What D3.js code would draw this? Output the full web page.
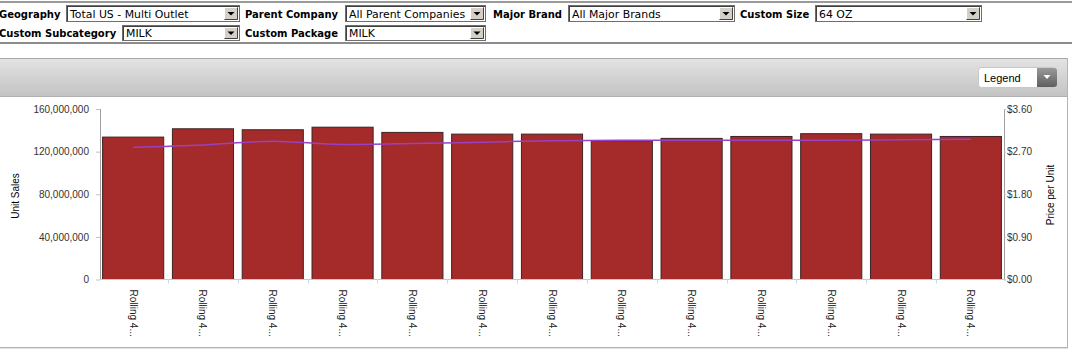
<!DOCTYPE html>
<html><head><meta charset="utf-8">
<script src="https://cdn.jsdelivr.net/npm/d3@7"></script>
<style>
html,body{margin:0;padding:0;background:#fff;overflow:hidden;}
svg{display:block;}
</style></head>
<body>
<div id="chart"></div>
<script>
// ---- data ----
const categories = ["P01","P02","P03","P04","P05","P06","P07","P08","P09","P10","P11","P12","P13"];
const tickLabels = ["Rolling 4...","Rolling 4...","Rolling 4...","Rolling 4...","Rolling 4...","Rolling 4...","Rolling 4...","Rolling 4...","Rolling 4...","Rolling 4...","Rolling 4...","Rolling 4...","Rolling 4..."];
const unitSales = [134.1e6,141.9e6,141.0e6,143.4e6,138.5e6,136.9e6,136.9e6,130.7e6,132.9e6,134.7e6,137.3e6,136.9e6,134.7e6];
const pricePerUnit = [2.79,2.84,2.92,2.85,2.87,2.90,2.93,2.94,2.94,2.94,2.94,2.95,2.96];
const leftTicks = [0,40e6,80e6,120e6,160e6];
const rightTicks = [0,0.9,1.8,2.7,3.6];
const filtersRow1 = [["Geography","Total US - Multi Outlet"],["Parent Company","All Parent Companies"],["Major Brand","All Major Brands"],["Custom Size","64 OZ"]];
const filtersRow2 = [["Custom Subcategory","MILK"],["Custom Package","MILK"]];

const W = 1072, H = 357;
const svg = d3.select("#chart").append("svg").attr("width", W).attr("height", H);
const defs = svg.append("defs");

// ---- filter bar ----
svg.append("rect").attr("x",0).attr("y",1).attr("width",W).attr("height",2).attr("fill","#9a9a9a");
svg.append("rect").attr("x",0).attr("y",42).attr("width",W).attr("height",2).attr("fill","#8c8c8c");

const layout1 = [[-1,66,240],[245,345,486],[493,568,735],[740,815,982]];
const layout2 = [[-1,122,240],[245,345,486]];
function drawFilters(rows, lay, y0, h) {
  rows.forEach((f, i) => {
    const [lx, sx, ex] = lay[i];
    svg.append("text").attr("x", lx).attr("y", y0 + h - 4)
      .attr("font-family","DejaVu Sans, Verdana, sans-serif").attr("font-weight","bold")
      .attr("font-size","10px").attr("fill","#000").text(f[0]);
    const g = svg.append("g");
    g.append("rect").attr("x", sx+0.5).attr("y", y0+0.5).attr("width", ex-sx-1).attr("height", h-1)
      .attr("fill","#fff").attr("stroke","#6e6e6e");
    g.append("line").attr("x1",sx+1).attr("x2",ex-1).attr("y1",y0+1.5).attr("y2",y0+1.5).attr("stroke","#404040");
    g.append("line").attr("x1",sx+1.5).attr("x2",sx+1.5).attr("y1",y0+1).attr("y2",y0+h-1).attr("stroke","#404040");
    g.append("text").attr("x", sx+4).attr("y", y0 + h - 4)
      .attr("font-family","DejaVu Sans, Verdana, sans-serif").attr("font-size","10.9px").attr("fill","#000").text(f[1]);
    const bx = ex - 16, by = y0 + 2, bw = 14, bh = h - 4;
    g.append("rect").attr("x",bx).attr("y",by).attr("width",bw).attr("height",bh).attr("fill","#d4d0c8");
    g.append("path").attr("d",`M${bx+0.5},${by+bh-0.5}V${by+0.5}H${bx+bw-0.5}`).attr("stroke","#fff").attr("fill","none");
    g.append("path").attr("d",`M${bx+0.5},${by+bh-0.5}H${bx+bw-0.5}V${by+0.5}`).attr("stroke","#404040").attr("fill","none");
    const cx = bx + bw/2, cy = by + bh/2;
    g.append("path").attr("d",`M${cx-3.5},${cy-1.5}H${cx+3.5}L${cx},${cy+2}Z`).attr("fill","#000");
  });
}
drawFilters(filtersRow1, layout1, 5, 17);
drawFilters(filtersRow2, layout2, 25, 16);

// ---- panel ----
const grad = defs.append("linearGradient").attr("id","hdr").attr("x1",0).attr("x2",0).attr("y1",0).attr("y2",1);
grad.append("stop").attr("offset","0%").attr("stop-color","#e4e4e4");
grad.append("stop").attr("offset","100%").attr("stop-color","#c3c3c3");
svg.append("rect").attr("x",0).attr("y",58).attr("width",1068).attr("height",289).attr("fill","#fff");
svg.append("rect").attr("x",0).attr("y",58).attr("width",1068).attr("height",38).attr("fill","url(#hdr)");
svg.append("line").attr("x1",0).attr("x2",1068).attr("y1",58.5).attr("y2",58.5).attr("stroke","#a8a8a8");
svg.append("line").attr("x1",0).attr("x2",1068).attr("y1",96.5).attr("y2",96.5).attr("stroke","#b0b0b0");
svg.append("line").attr("x1",1067.5).attr("x2",1067.5).attr("y1",58).attr("y2",348).attr("stroke","#b4b4b4");
svg.append("line").attr("x1",0).attr("x2",1068).attr("y1",347.5).attr("y2",347.5).attr("stroke","#b4b4b4");
svg.append("line").attr("x1",0).attr("x2",1068).attr("y1",348.5).attr("y2",348.5).attr("stroke","#e0e0e0");

// legend button
const lg = defs.append("linearGradient").attr("id","lgb").attr("x1",0).attr("x2",0).attr("y1",0).attr("y2",1);
lg.append("stop").attr("offset","0%").attr("stop-color","#9a9a9a");
lg.append("stop").attr("offset","100%").attr("stop-color","#5e5e5e");
svg.append("rect").attr("x",978.5).attr("y",67.5).attr("width",78).attr("height",20).attr("rx",3)
  .attr("fill","#fff").attr("stroke","#c8c8c8");
svg.append("path").attr("d","M1037,68H1054a3,3 0 0 1 3,3V84a3,3 0 0 1 -3,3H1037Z").attr("fill","url(#lgb)");
svg.append("path").attr("d","M1043.5,75H1050.5L1047,79Z").attr("fill","#fff");
svg.append("text").attr("x",984).attr("y",82).attr("font-family","Liberation Sans, Arial, sans-serif")
  .attr("font-size","11px").attr("fill","#000").text("Legend");

// ---- chart ----
const x = d3.scaleBand().domain(categories).range([100, 1004]).paddingInner(0.11).paddingOuter(0.03);
const y = d3.scaleLinear().domain([0, 160e6]).range([279.5, 109]);
const y2 = d3.scaleLinear().domain([0, 3.6]).range([279.5, 109]);
const font = "Liberation Sans, Arial, sans-serif";

svg.append("g").selectAll("rect").data(unitSales).join("rect")
  .attr("x", (d,i) => x(categories[i]) + 0.5)
  .attr("y", d => y(d) + 0.5)
  .attr("width", x.bandwidth() - 1)
  .attr("height", d => y(0) - y(d) - 0.5)
  .attr("fill", "#a52a2a")
  .attr("stroke", "#3c2424").attr("stroke-width", 1);

// left axis
const gl = svg.append("g").attr("transform","translate(100,0)")
  .call(d3.axisLeft(y).tickValues(leftTicks).tickFormat(d3.format(",")).tickSize(4).tickPadding(7));
gl.select(".domain").attr("stroke","#a0a0a0").attr("d","M0.5,109V279.5");
gl.selectAll(".tick line").attr("stroke","#c0c0c0");
gl.selectAll(".tick text").attr("font-family",font).attr("font-size","10px").attr("fill","#333");

// right axis
const gr = svg.append("g").attr("transform","translate(1004,0)")
  .call(d3.axisRight(y2).tickValues(rightTicks).tickFormat(d3.format("$.2f")).tickSize(2).tickPadding(1));
gr.select(".domain").attr("stroke","#a0a0a0").attr("d","M0.5,109V279.5");
gr.selectAll(".tick line").attr("stroke","#c0c0c0");
gr.selectAll(".tick text").attr("font-family",font).attr("font-size","10px").attr("fill","#333");

// bottom axis
const gb = svg.append("g").attr("transform","translate(0,279.5)");
gb.append("line").attr("x1",100).attr("x2",1004).attr("stroke","#c8c8c8");
gb.selectAll("line.tk").data(categories.slice(1)).join("line").attr("class","tk")
  .attr("x1", d => Math.round(x(d) - x.step()*x.paddingInner()/2) + 0.5)
  .attr("x2", d => Math.round(x(d) - x.step()*x.paddingInner()/2) + 0.5)
  .attr("y1",0).attr("y2",4).attr("stroke","#c8dce8");
gb.selectAll("text").data(categories).join("text")
  .attr("transform", (d,i) => `translate(${x(d) + x.bandwidth()/2 - 3.5},10) rotate(90)`)
  .attr("font-family",font).attr("font-size","10px").attr("fill","#222")
  .attr("text-anchor","start")
  .text((d,i) => tickLabels[i]);

// price line
const line = d3.line()
  .x((d,i) => x(categories[i]) + x.bandwidth()/2)
  .y(d => y2(d))
  .curve(d3.curveMonotoneX);
svg.append("path").datum(pricePerUnit).attr("d", line)
  .attr("fill","none").attr("stroke","#9b3fc4").attr("stroke-width",1.5);

// axis titles
svg.append("text").attr("transform","translate(19,196) rotate(-90)").attr("text-anchor","middle")
  .attr("font-family",font).attr("font-size","10px").attr("fill","#000").text("Unit Sales");
svg.append("text").attr("transform","translate(1054,195) rotate(-90)").attr("text-anchor","middle")
  .attr("font-family",font).attr("font-size","10px").attr("fill","#000").text("Price per Unit");
</script>
</body></html>
